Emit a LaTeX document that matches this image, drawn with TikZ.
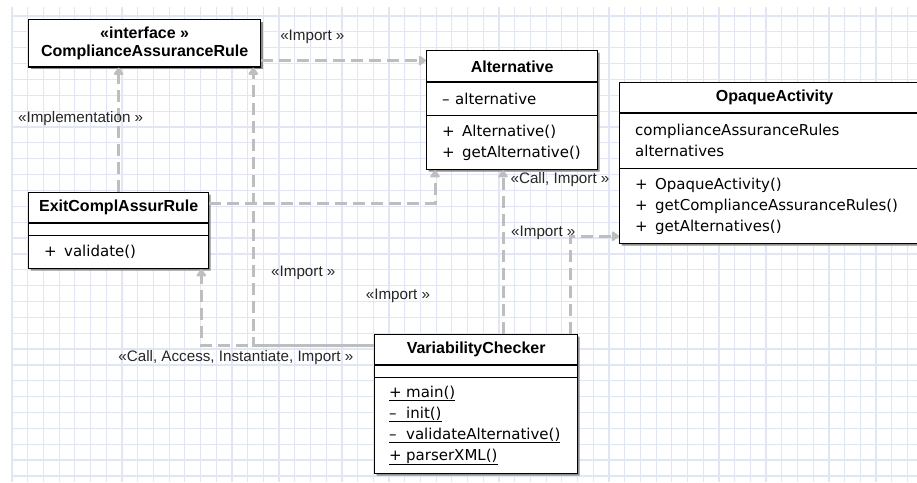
\documentclass[tikz,border=0pt]{standalone}
\usepackage{fontspec}
\newfontfamily\uifont{Liberation Sans}
\newfontfamily\memberfont{DejaVu Sans}
\usetikzlibrary{shapes.multipart,shadows,arrows.meta}

\definecolor{gridblue}{RGB}{224,229,247}
\definecolor{depgray}{RGB}{190,190,190}

\tikzstyle{umlclass} = [rectangle split, rectangle split parts=3, draw, line width=1.3pt, fill=white, inner sep=0pt, anchor=north west, drop shadow={shadow xshift=2pt, shadow yshift=-2pt, fill=black!45, opacity=1}]
\tikzstyle{dep} = [depgray, line width=3pt, dash pattern=on 12pt off 6pt, -{Triangle[length=8pt,width=11pt,round]}]
\tikzstyle{lbl} = [inner sep=0pt, font=\uifont\fontsize{15.2}{18}\selectfont, text=black!85]
\tikzstyle{gridline} = [gridblue, line width=1.2pt]

% one compartment of a class box: width, height, contents
\newcommand{\compart}[3]{\parbox[c][#2][c]{#1}{#3}}
\newcommand{\classname}[1]{{\centering\uifont\bfseries\fontsize{16}{18}\selectfont #1\par}}
\newcommand{\members}{\memberfont\fontsize{15}{21}\selectfont}
\newcommand{\mbr}[3][20pt]{\hspace*{15.5pt}\makebox[#1][l]{#2}#3\par}
\newcommand{\smbr}[2]{\hspace*{14.5pt}\underline{\makebox[17pt][l]{#1}#2}\par}

\begin{document}
\begin{tikzpicture}[x=1pt, y=-1pt]
    \useasboundingbox (0,0) rectangle (917,482);
    \clip (0,0) rectangle (917,482);
    \fill[white] (0,0) rectangle (917,482);

    % grid
    \foreach \i in {0,...,57}
        \draw[gridline] ({12+15.71*\i},7) -- ({12+15.71*\i},482);
    \foreach \j in {0,...,29}
        \draw[gridline] (12,{16+15.86*\j}) -- (917,{16+15.86*\j});

    % classes
    \node[umlclass, rectangle split parts=1] (car) at (28,19) {%
        \compart{232pt}{46pt}{\classname{«interface »\\ComplianceAssuranceRule}}};
    \node[umlclass] (alt) at (426,50) {%
        \compart{171pt}{30pt}{\classname{Alternative}}%
        \nodepart{two}\compart{171pt}{32pt}{\members\mbr[13pt]{\textendash}{alternative}}%
        \nodepart{three}\compart{171pt}{53pt}{\members\mbr{+}{Alternative()}\mbr{+}{getAlternative()}}};
    \node[umlclass] (opq) at (619,82) {%
        \compart{310pt}{29pt}{\classname{OpaqueActivity}}%
        \nodepart{two}\compart{310pt}{54pt}{\members\mbr[0pt]{}{complianceAssuranceRules}\mbr[0pt]{}{alternatives}}%
        \nodepart{three}\compart{310pt}{74pt}{\members\mbr{+}{OpaqueActivity()}\mbr{+}{getComplianceAssuranceRules()}\mbr{+}{getAlternatives()}}};
    \node[umlclass] (exit) at (28,192) {%
        \compart{180pt}{29pt}{\classname{ExitComplAssurRule}}%
        \nodepart{two}\compart{180pt}{11pt}{}%
        \nodepart{three}\compart{180pt}{32pt}{\members\mbr{+}{validate()}}};
    \node[umlclass] (vc) at (374,334) {%
        \compart{203pt}{29pt}{\classname{VariabilityChecker}}%
        \nodepart{two}\compart{203pt}{11pt}{}%
        \nodepart{three}\compart{203pt}{95pt}{\members\smbr{+}{main()}\smbr{\textendash}{init()}\smbr{\textendash}{validateAlternative()}\smbr{+}{parserXML()}}};

    % dependencies
    \draw[dep] ([yshift=7pt]car.south east) -- ([yshift=7pt]car.south east -| alt.west)
        node[lbl, pos=0.31, yshift=24pt] (imp1) {«Import »};
    \draw[dep] (exit.north) -- (exit.north |- car.south)
        node[lbl, pos=0.59, xshift=-38pt] (impl) {«Implementation »};
    \draw[dep] ([yshift=-11pt]exit.north east) -| ([xshift=9pt]alt.south west);
    \draw[dep] ([yshift=-11pt]vc.north west) -| ([xshift=-8pt]exit.south east)
        node[lbl, pos=0.4, yshift=-13pt] (callacc) {«Call, Access, Instantiate, Import »};
    \draw[dep, dash phase=9pt] ([yshift=-11pt]vc.north west) -| ([xshift=-8pt]car.south east)
        node[lbl, pos=0.63, xshift=50pt] (imp2) {«Import »};
    \draw[dep] ([xshift=129pt]vc.north west) -- ([xshift=129pt]vc.north west |- alt.south)
        node[lbl, pos=0.94, xshift=57pt] (callimp) {«Call, Import »}
        node[lbl, pos=0.23, xshift=-105pt] (imp3) {«Import »};
    \draw[dep] ([xshift=-8pt]vc.north east) |- ([yshift=8pt]opq.south west)
        node[lbl, pos=0.5, xshift=-27pt, yshift=3pt] (imp4) {«Import »};
\end{tikzpicture}
\end{document}
